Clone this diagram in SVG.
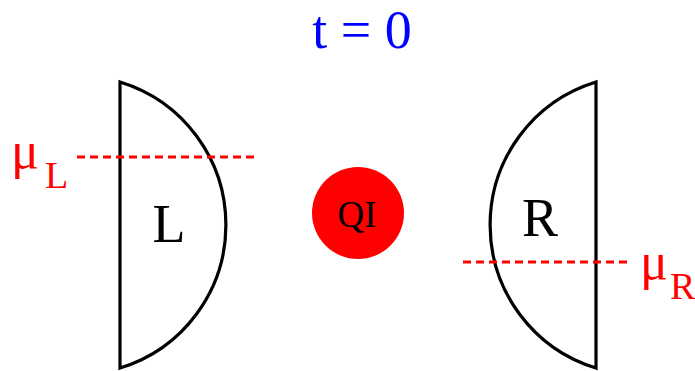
<svg xmlns="http://www.w3.org/2000/svg" width="695" height="371" viewBox="0 0 695 371">
<style>
.lens{fill:none;stroke:#000;stroke-width:3.2;stroke-linejoin:miter}
.mu{stroke:#ff0000;stroke-width:3;stroke-dasharray:8 5;fill:none}
text{font-family:"Liberation Serif","Times New Roman",serif}
.lbl{font-size:54px;fill:#000;text-anchor:middle}
.red{fill:#ff0000}
.g{font-size:52px}
.s{font-size:38px}
</style>
<rect width="695" height="371" fill="#fff"/>
<g id="title"><text x="362" y="48" font-size="54" fill="#0000ff" text-anchor="middle">t = 0</text></g>
<g id="L">
<path class="lens" d="M120,82 A149.5,149.5 0 0 1 120,368 Z"/>
<text class="lbl" x="169" y="242">L</text>
</g>
<g id="R">
<path class="lens" d="M596,82 A149.5,149.5 0 0 0 596,368 Z"/>
<text class="lbl" x="540" y="236">R</text>
</g>
<g id="QI">
<circle cx="358" cy="213" r="46" fill="#ff0000"/>
<text x="357" y="227" font-size="37" text-anchor="middle" fill="#000">QI</text>
</g>
<g id="connectors">
<line class="mu" x1="77" y1="157" x2="256" y2="157"/>
<line class="mu" x1="463" y1="262" x2="627" y2="262"/>
</g>
<g id="muL"><text class="red g" x="11" y="168">μ</text><text class="red s" x="45" y="188">L</text></g>
<g id="muR"><text class="red g" x="640" y="279">μ</text><text class="red s" x="670" y="299">R</text></g>
</svg>
